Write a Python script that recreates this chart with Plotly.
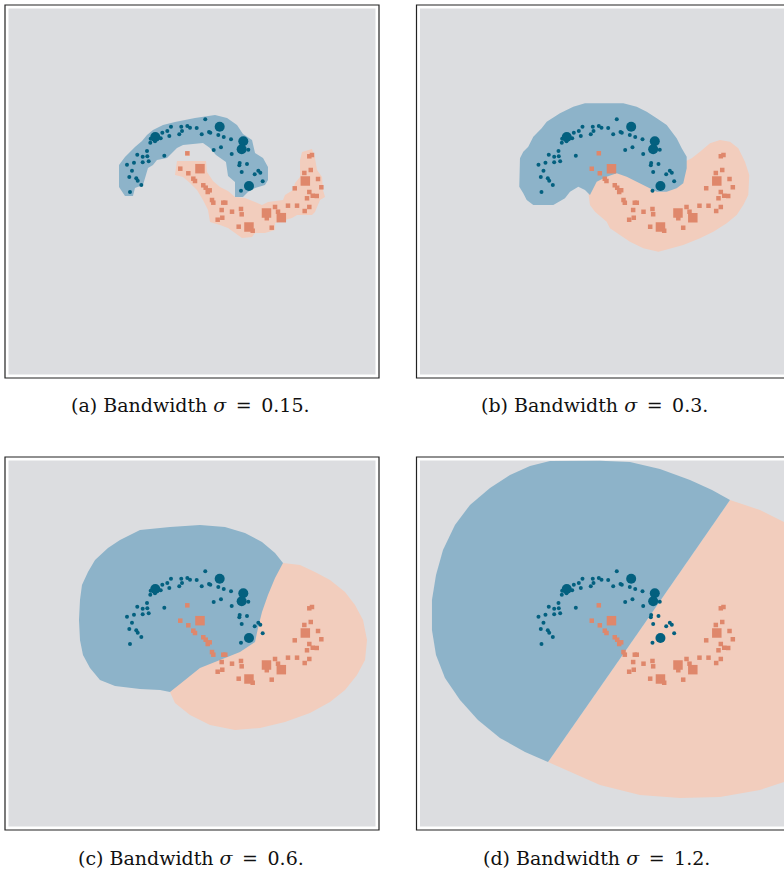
import plotly.graph_objects as go

# ---------------- data (panel data units) ----------------
blue_x = [-0.337, -0.172, -0.075, -0.032, -0.160, -0.204, -0.364, -0.476, -0.396, -0.502,
          -0.663, -0.669, -0.594, -0.722, -0.444, -0.878, -0.791, -0.717, -0.695, -0.791,
          -0.931, -1.043, -0.963, -1.006, -0.894, -0.871, -0.813, -0.995, 0.213, 0.156,
          0.273, 0.294, 0.422, 0.509, 0.626, 0.903, 0.465, 0.348, 0.637, 0.765,
          0.882, 0.759, 0.797, 1.064, 1.096, 1.006, 1.134, 0.786, 0.075]
blue_y = [1.041, 1.042, 1.054, 1.026, 0.973, 0.920, 0.893, 0.946, 0.973, 0.856,
          0.849, 0.785, 0.807, 0.651, 0.576, 0.592, 0.560, 0.566, 0.486, 0.470,
          0.463, 0.431, 0.335, 0.233, 0.212, 0.174, 0.105, -0.008, 1.161, 0.920,
          0.957, 0.946, 0.909, 0.877, 0.840, 0.672, 0.711, 0.668, 0.603, 0.458,
          0.442, 0.421, 0.314, 0.335, 0.302, 0.277, 0.164, 0.013, 1.021]

orange_x = [-0.075, -0.188, -0.059, 0.021, 0.048, 0.181, 0.220, 0.252, 0.284, 0.321,
            0.342, 0.502, 0.534, 0.476, 0.642, 0.786, 0.797, 0.486, 0.412, 0.749,
            0.974, 1.200, 1.332, 1.380, 1.279, 1.540, 1.685, 1.808, 1.882, 1.845,
            1.882, 1.937, 2.001, 2.075, 1.648, 2.022, 1.802, 1.905, 1.882, 1.925]
orange_y = [0.614, 0.367, 0.293, 0.206, 0.169, 0.100, 0.061, -0.008, 0.019, -0.137,
            -0.180, -0.180, -0.180, -0.298, -0.325, -0.281, -0.367, -0.422, -0.454, -0.566,
            -0.631, -0.430, -0.249, -0.325, -0.582, -0.228, -0.228, -0.314, -0.249, -0.109,
            -0.008, -0.068, -0.072, 0.068, 0.051, 0.201, 0.298, 0.346, 0.566, 0.587]

labeled_blue_x = [-0.589, 0.444, 0.823, 0.797, 0.914]
labeled_blue_y = [0.877, 1.042, 0.807, 0.679, 0.088]
labeled_orange_x = [0.128, 0.914, 1.195, 1.433, 1.818]
labeled_orange_y = [0.367, -0.571, -0.346, -0.421, 0.169]

# decision regions (polygons)
a_blue_x = [-1.075, -1.171, -1.171, -1.075, -0.995, -0.915, -0.802, -0.722, -0.626, -0.465,
            -0.273, 0.048, 0.369, 0.562, 0.722, 0.818, 0.963, 1.011, 1.139, 1.219,
            1.219, 1.171, 1.011, 0.898, 0.818, 0.690, 0.690, 0.578, 0.545, 0.385,
            0.289, 0.176, -0.144, -0.241, -0.321, -0.401, -0.562, -0.626, -0.706, -0.754,
            -0.786, -0.915, -0.947]
a_blue_y = [-0.072, 0.072, 0.426, 0.555, 0.635, 0.716, 0.812, 0.909, 0.989, 1.070,
            1.118, 1.182, 1.231, 1.182, 1.070, 0.925, 0.828, 0.619, 0.539, 0.394,
            0.185, 0.105, 0.056, -0.008, -0.088, -0.088, 0.153, 0.249, 0.475, 0.587,
            0.700, 0.780, 0.748, 0.700, 0.619, 0.539, 0.507, 0.426, 0.378, 0.233,
            0.105, 0.056, -0.072]
a_orange_x = [-0.241, 0.225, 0.241, 0.337, 0.449, 0.578, 0.690, 0.850, 1.011, 1.123,
              1.219, 1.460, 1.492, 1.620, 1.653, 1.733, 1.733, 1.765, 1.925, 1.973,
              2.006, 2.086, 2.102, 2.134, 2.054, 2.006, 1.973, 1.925, 1.685, 1.604,
              1.492, 1.332, 1.332, 1.171, 1.011, 0.963, 0.802, 0.690, 0.578, 0.449,
              0.289, 0.257, 0.176, 0.080, -0.032, -0.144, -0.273]
a_orange_y = [0.491, 0.491, 0.314, 0.169, 0.072, 0.008, -0.088, -0.105, -0.169, -0.217,
              -0.169, -0.137, -0.056, 0.024, 0.137, 0.233, 0.507, 0.635, 0.684, 0.539,
              0.346, 0.233, 0.024, -0.088, -0.137, -0.249, -0.330, -0.378, -0.378, -0.426,
              -0.458, -0.507, -0.619, -0.668, -0.668, -0.732, -0.748, -0.668, -0.587, -0.539,
              -0.491, -0.298, -0.137, 0.024, 0.137, 0.233, 0.265]
a_orange_patch_x = [-0.104, -0.032, -0.032, -0.104]
a_orange_patch_y = [0.651, 0.651, 0.571, 0.571]

b_blue_x = [-0.297, -0.485, -0.698, -0.911, -0.992, -1.126, -1.207, -1.287, -1.340, -1.351,
            -1.287, -1.232, -1.126, -0.805, -0.618, -0.537, -0.404, -0.297, -0.217, -0.109,
            0.051, 0.212, 0.372, 0.533, 0.693, 0.854, 1.014, 1.174, 1.280, 1.308,
            1.335, 1.335, 1.255, 1.174, 1.094, 1.014, 0.854, 0.693, 0.533, 0.318]
b_blue_y = [1.419, 1.364, 1.258, 1.123, 1.017, 0.881, 0.721, 0.640, 0.534, 0.077,
            -0.029, -0.137, -0.217, -0.217, -0.109, -0.003, 0.077, 0.024, -0.056, 0.158,
            0.238, 0.293, 0.238, 0.158, 0.077, -0.003, -0.003, 0.051, 0.132, 0.265,
            0.373, 0.560, 0.695, 0.856, 0.962, 1.070, 1.177, 1.284, 1.364, 1.419]
b_orange_x = [-0.249, -0.217, -0.136, 0.051, 0.104, 0.265, 0.425, 0.639, 0.879, 0.987,
              1.280, 1.548, 1.762, 1.977, 2.137, 2.243, 2.323, 2.339, 2.270, 2.163,
              2.030, 1.869, 1.709, 1.548, 1.415, 1.292, 0.906, 0.265, -0.136]
b_orange_y = [0.024, -0.217, -0.325, -0.486, -0.592, -0.700, -0.807, -0.914, -0.968, -0.941,
              -0.861, -0.753, -0.647, -0.512, -0.378, -0.217, -0.056, 0.265, 0.479, 0.695,
              0.801, 0.828, 0.775, 0.640, 0.534, 0.474, 0.426, 0.474, 0.265]

c_blue_x = [-1.155, -0.834, -0.353, 0.128, 0.529, 0.850, 1.123, 1.332, 1.460, 1.332,
            1.219, 1.123, 1.059, 1.011, 0.770, 0.449, 0.128, -0.112, -0.353, -0.513,
            -0.834, -1.235, -1.476, -1.636, -1.749, -1.797, -1.813, -1.797, -1.765, -1.669,
            -1.556, -1.348]
c_blue_y = [1.665, 1.826, 1.874, 1.906, 1.874, 1.777, 1.633, 1.456, 1.295, 1.054,
            0.780, 0.507, 0.249, 0.024, -0.137, -0.265, -0.394, -0.587, -0.780, -0.748,
            -0.732, -0.684, -0.587, -0.394, -0.185, 0.056, 0.378, 0.700, 0.941, 1.150,
            1.343, 1.536]
c_orange_x = [1.460, 1.733, 1.973, 2.214, 2.455, 2.615, 2.744, 2.808, 2.776, 2.647,
              2.455, 2.214, 1.893, 1.492, 1.091, 0.690, 0.289, -0.032, -0.273, -0.353,
              0.128, 0.931, 1.251]
c_orange_y = [1.295, 1.263, 1.150, 1.021, 0.828, 0.619, 0.378, 0.056, -0.265, -0.507,
              -0.748, -0.941, -1.118, -1.263, -1.359, -1.391, -1.311, -1.150, -0.957, -0.780,
              0.056, 0.700, 1.102]

d_blue_x = [-0.890, -1.259, -1.661, -2.014, -2.302, -2.543, -2.687, -2.752, -2.752, -2.687,
            -2.575, -2.383, -2.142, -1.821, -1.500, -1.179, -0.858, -0.056, 0.425, 0.906,
            1.388, 1.741, 2.030, 0.586]
d_blue_y = [-1.906, -1.745, -1.520, -1.231, -0.909, -0.555, -0.185, 0.217, 0.700, 1.102,
            1.504, 1.906, 2.228, 2.501, 2.710, 2.855, 2.936, 2.940, 2.919, 2.807,
            2.630, 2.469, 2.308, 0.217]
d_orange_x = [2.030, 2.511, 2.896, 3.153, 3.153, 2.896, 2.511, 1.869, 1.227, 0.586,
              -0.056, -0.537, -0.890, 0.586]
d_orange_y = [2.308, 2.147, 1.954, 1.826, -2.196, -2.228, -2.356, -2.469, -2.485, -2.437,
              -2.276, -2.067, -1.906, 0.217]

captions = ["(a) Bandwidth <i>σ</i>\u2002=\u20020.15.", "(b) Bandwidth <i>σ</i>\u2002=\u20020.3.",
            "(c) Bandwidth <i>σ</i>\u2002=\u20020.6.", "(d) Bandwidth <i>σ</i>\u2002=\u20021.2."]

# ---------------- styling ----------------
W, H = 784, 884
GRAY = "#dcdde0"
BLUE_REG = "#8db3c9"
ORANGE_REG = "#f2cdbd"
BLUE_PT = "#03607f"
ORANGE_PT = "#df876b"

def px_x(p):
    return p / W

def px_y(p):
    return 1 - p / H

panels = [
    dict(name="", xdom=(5, 379), ydom=(5, 378), xr=(-3, 3), clip_right=False,
         regions=[(a_orange_x, a_orange_y, ORANGE_REG), (a_orange_patch_x, a_orange_patch_y, ORANGE_REG),
                  (a_blue_x, a_blue_y, BLUE_REG)], cap_x=190, cap_y=405),
    dict(name="2", xdom=(416.5, 784), ydom=(5, 378), xr=(-3, 2.896), clip_right=True,
         regions=[(b_orange_x, b_orange_y, ORANGE_REG), (b_blue_x, b_blue_y, BLUE_REG)],
         cap_x=594, cap_y=405),
    dict(name="3", xdom=(5, 379), ydom=(457, 830), xr=(-3, 3), clip_right=False,
         regions=[(c_orange_x, c_orange_y, ORANGE_REG), (c_blue_x, c_blue_y, BLUE_REG)],
         cap_x=191, cap_y=858),
    dict(name="4", xdom=(416.5, 784), ydom=(457, 830), xr=(-3, 2.896), clip_right=True,
         regions=[(d_orange_x, d_orange_y, ORANGE_REG), (d_blue_x, d_blue_y, BLUE_REG)],
         cap_x=596, cap_y=858),
]

fig = go.Figure()
shapes = []
annotations = []
layout_axes = {}
inset = 0.056

for i, p in enumerate(panels):
    xa = "x" + p["name"]
    ya = "y" + p["name"]
    layout_axes["xaxis" + p["name"]] = dict(
        domain=[px_x(p["xdom"][0]), px_x(p["xdom"][1])], range=list(p["xr"]),
        visible=False, fixedrange=True, anchor=ya)
    layout_axes["yaxis" + p["name"]] = dict(
        domain=[px_y(p["ydom"][1]), px_y(p["ydom"][0])], range=[-3, 3],
        visible=False, fixedrange=True, anchor=xa)

    # gray background field
    shapes.append(dict(type="rect", xref=xa, yref=ya, layer="below",
                       x0=-3 + inset, x1=(3.5 if p["clip_right"] else 3 - inset),
                       y0=-3 + inset, y1=3 - inset, fillcolor=GRAY, line=dict(width=0)))

    # frame
    x0, x1 = px_x(p["xdom"][0]), px_x(p["xdom"][1])
    y0, y1 = px_y(p["ydom"][1]), px_y(p["ydom"][0])
    if p["clip_right"]:
        shapes.append(dict(type="path", xref="paper", yref="paper",
                           path=f"M 1.02,{y1} L {x0},{y1} L {x0},{y0} L 1.02,{y0}",
                           line=dict(color="#222222", width=1.2)))
    else:
        shapes.append(dict(type="rect", xref="paper", yref="paper",
                           x0=x0, x1=x1, y0=y0, y1=y1,
                           line=dict(color="#222222", width=1.2)))

    for rx, ry, col in p["regions"]:
        fig.add_trace(go.Scatter(x=rx, y=ry, xaxis=xa, yaxis=ya, mode="lines",
                                 fill="toself", fillcolor=col, line=dict(width=0, color=col),
                                 hoverinfo="skip", showlegend=False))

    fig.add_trace(go.Scatter(x=blue_x, y=blue_y, xaxis=xa, yaxis=ya, mode="markers",
                             marker=dict(symbol="circle", size=4, color=BLUE_PT),
                             showlegend=False, hoverinfo="skip"))
    fig.add_trace(go.Scatter(x=orange_x, y=orange_y, xaxis=xa, yaxis=ya, mode="markers",
                             marker=dict(symbol="square", size=4.5, color=ORANGE_PT),
                             showlegend=False, hoverinfo="skip"))
    fig.add_trace(go.Scatter(x=labeled_blue_x, y=labeled_blue_y, xaxis=xa, yaxis=ya, mode="markers",
                             marker=dict(symbol="circle", size=10, color=BLUE_PT),
                             showlegend=False, hoverinfo="skip"))
    fig.add_trace(go.Scatter(x=labeled_orange_x, y=labeled_orange_y, xaxis=xa, yaxis=ya, mode="markers",
                             marker=dict(symbol="square", size=9.5, color=ORANGE_PT),
                             showlegend=False, hoverinfo="skip"))

    annotations.append(dict(text=captions[i], xref="paper", yref="paper",
                            x=px_x(p["cap_x"]), y=px_y(p["cap_y"]),
                            xanchor="center", yanchor="middle", showarrow=False,
                            font=dict(family="DejaVu Serif", size=19, color="#111111")))

fig.update_layout(width=W, height=H, margin=dict(l=0, r=0, t=0, b=0),
                  paper_bgcolor="white", plot_bgcolor="white",
                  shapes=shapes, annotations=annotations, **layout_axes)

fig.write_html("out.html", config={"displayModeBar": False},
               post_script="document.body.style.margin='0px';document.body.style.overflow='hidden';")
